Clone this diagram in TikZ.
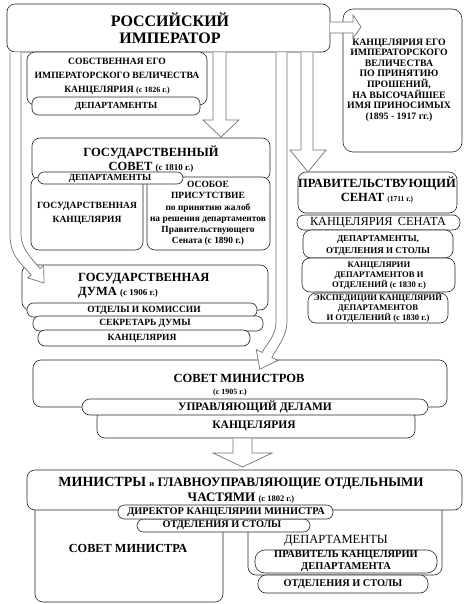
\documentclass[tikz,border=0pt]{standalone}
\usepackage{fontspec}
\setmainfont{Liberation Serif}
\newcommand\fs[2]{\fontsize{#1}{#2}\selectfont}
\newcommand\bxn[6]{\node[#1, anchor=north west, minimum width={(#5-#3)*1pt}, minimum height={(#6-#4)*1pt}] (#2) at (#3,#4) {};}
\begin{document}
\begin{tikzpicture}[x=1pt,y=-1pt,
  box/.style={draw=black!85, line width=0.6pt, fill=white, rounded corners=8pt, inner sep=0pt, outer sep=0pt},
  pill/.style={box, rounded corners=6.5pt},
  arr/.style={draw=black!55, line width=0.7pt, fill=white},
  t/.style={font=\bfseries\fs{9.5}{10.5}, align=center, inner sep=0pt},
  tb/.style={font=\bfseries\fs{12.5}{14.5}, align=center, inner sep=0pt}]
\useasboundingbox (0,0) rectangle (463,604);
% ---------- emperor
\bxn{box}{emp}{7}{4}{330}{52}
\node[font=\bfseries\fs{16}{17}, align=center, inner sep=0pt] (empt) at (170,28.5) {РОССИЙСКИЙ\\ИМПЕРАТОР};
% ---------- own chancellery
\bxn{box}{sob}{27}{52}{207}{105}
\node[t, font=\bfseries\fs{9.6}{14}] (sobt) at (117,76) {СОБСТВЕННАЯ ЕГО\\ИМПЕРАТОРСКОГО ВЕЛИЧЕСТВА\\КАНЦЕЛЯРИЯ {\fs{8}{9}(с 1826 г.)}};
\bxn{pill}{sobd}{32}{97}{200}{115}
\node[t, font=\bfseries\fs{9.3}{10}] (sobdt) at (116,106) {ДЕПАРТАМЕНТЫ};
% ---------- right chancellery
\bxn{box, rounded corners=10pt}{pet}{343}{9}{462}{152}
\node[t, font=\bfseries\fs{9.8}{10.6}] (pett) at (399,80) {КАНЦЕЛЯРИЯ ЕГО\\ИМПЕРАТОРСКОГО\\ВЕЛИЧЕСТВА\\ПО ПРИНЯТИЮ\\ПРОШЕНИЙ,\\НА ВЫСОЧАЙШЕЕ\\ИМЯ ПРИНОСИМЫХ\\(1895 - 1917 гг.)};
% ---------- State council
\bxn{box}{gs}{32}{138}{270}{180}
\node[tb] (gst) at (151,159) {ГОСУДАРСТВЕННЫЙ\\СОВЕТ {\fs{9}{10}(с 1810 г.)}};
\bxn{box}{gk}{31}{177}{143}{250}
\node[t, font=\bfseries\fs{9.5}{14}] (gkt) at (87,213) {ГОСУДАРСТВЕННАЯ\\КАНЦЕЛЯРИЯ};
\bxn{box}{op}{147}{177}{270}{250}
\node[t, font=\bfseries\fs{9.4}{11.2}] (opt) at (208,213.5) {{\fs{9.5}{11.2}ОСОБОЕ}\\{\fs{9.5}{11.2}ПРИСУТСТВИЕ}\\по принятию жалоб\\на решения департаментов\\Правительствующего\\Сената (с 1890 г.)};
\bxn{pill, rounded corners=6pt}{gsd}{38}{172}{183}{184}
\node[t, font=\bfseries\fs{9.3}{10}] (gsdt) at (110,178) {ДЕПАРТАМЕНТЫ};
% ---------- Duma
\bxn{box}{du}{22}{265}{268}{310}
\node[tb, align=left, anchor=west] (dut) at (78,285.5) {ГОСУДАРСТВЕННАЯ\\ДУМА {\fs{9}{10}(с 1906 г.)}};
\bxn{pill}{du1}{27}{303}{257}{317}
\node[t] (du1t) at (144,310) {ОТДЕЛЫ И КОМИССИИ};
\bxn{pill}{du2}{33}{316}{263}{331}
\node[t] (du2t) at (145,323.5) {СЕКРЕТАРЬ ДУМЫ};
\bxn{pill, rounded corners=7pt}{du3}{38}{330}{250}{346}
\node[t] (du3t) at (142,338) {КАНЦЕЛЯРИЯ};
% ---------- Senate
\bxn{box}{sen}{298}{172}{457}{213}
\node[tb] (sent) at (377,190) {ПРАВИТЕЛЬСТВУЮЩИЙ\\СЕНАТ {\fs{7.5}{9}(1711 г.)}};
\bxn{pill, rounded corners=7pt}{senk}{297}{215}{460}{230}
\node[font=\fs{12.3}{13}, inner sep=0pt] (senkt) at (378,222.5) {КАНЦЕЛЯРИЯ\, СЕНАТА};
\bxn{box}{sen1}{303}{230}{453}{258}
\node[t, font=\bfseries\fs{9}{12}] (sen1t) at (378,245.5) {ДЕПАРТАМЕНТЫ,\\ОТДЕЛЕНИЯ И СТОЛЫ};
\bxn{box}{sen2}{302}{258}{455}{292}
\node[t, font=\bfseries\fs{8.6}{10}] (sen2t) at (379,275.5) {КАНЦЕЛЯРИИ\\ДЕПАРТАМЕНТОВ И\\ОТДЕЛЕНИЙ (с 1830 г.)};
\bxn{box}{sen3}{308}{293}{448}{323}
\node[t, font=\bfseries\fs{8.6}{10}] (sen3t) at (378,308) {ЭКСПЕДИЦИИ КАНЦЕЛЯРИЙ\\ДЕПАРТАМЕНТОВ\\И ОТДЕЛЕНИЙ (с 1830 г.)};
% ---------- Council of ministers
\bxn{box}{cm}{33}{360}{447}{407}
\node[tb] (cmt) at (239,378) {СОВЕТ МИНИСТРОВ};
\node[t, font=\bfseries\fs{8}{9}] (cmy) at (230,393) {(с 1905 г.)};
\bxn{box}{cmk}{97}{410}{415}{438}
\node[t, font=\bfseries\fs{11.5}{12}] (cmkt) at (254,426) {КАНЦЕЛЯРИЯ};
\bxn{pill, rounded corners=8pt}{cmu}{82}{399}{428}{415}
\node[t, font=\bfseries\fs{11.5}{12}] (cmut) at (255,407) {УПРАВЛЯЮЩИЙ ДЕЛАМИ};
% ---------- Ministers
\bxn{box}{sm}{35}{500}{223}{602}
\node[t, font=\bfseries\fs{12.3}{13}] (smt) at (128,548) {СОВЕТ МИНИСТРА};
\bxn{box}{dp}{248}{500}{442}{575}
\node[font=\fs{12.5}{14}, inner sep=0pt] (dpt) at (336,541) {ДЕПАРТАМЕНТЫ};
\bxn{pill, rounded corners=10pt}{dp1}{255}{550}{437}{573}
\node[t, font=\bfseries\fs{10.5}{12}] (dp1t) at (346,561.5) {ПРАВИТЕЛЬ КАНЦЕЛЯРИИ\\ДЕПАРТАМЕНТА};
\bxn{pill, rounded corners=8pt}{dp2}{258}{575}{428}{593}
\node[t, font=\bfseries\fs{10.3}{12}] (dp2t) at (343,584) {ОТДЕЛЕНИЯ И СТОЛЫ};
\bxn{box}{mn}{27}{470}{462}{510}
\node[t, font=\bfseries\fs{13}{15}] (mnt) at (241,490) {{\fs{14}{15}МИНИСТРЫ} {\fs{8.5}{9}и} ГЛАВНОУПРАВЛЯЮЩИЕ ОТДЕЛЬНЫМИ\\ЧАСТЯМИ {\fs{8.5}{9}(с 1802 г.)}};
\bxn{pill}{mn2}{137}{519}{310}{532}
\node[t, font=\bfseries\fs{10.3}{11}] (mn2t) at (222,525.5) {ОТДЕЛЕНИЯ И СТОЛЫ};
\bxn{pill}{mn1}{118}{505}{333}{519}
\node[t, font=\bfseries\fs{10.3}{11}] (mn1t) at (226,512) {ДИРЕКТОР КАНЦЕЛЯРИИ МИНИСТРА};
% ---------- block arrows
% emperor -> right chancellery
\path[arr] (330,22) -- (353,22) -- (353,15) -- (361,27) -- (353,38) -- (353,33) -- (330,33);
% emperor -> state council
\path[arr] (213,52.5) -- (213,120) -- (203,120) -- (221,137) -- (239,120) -- (226,120) -- (226,52.5);
% emperor -> senate
\path[arr] (301,52.5) -- (301,150) -- (290,150) -- (308,172) -- (326,150) -- (313,150) -- (313,52.5);
% emperor -> council of ministers (curved)
\path[arr] (276,52.5) -- (276,322) .. controls (276,336) and (266.6,343.6) .. (262.1,352.5)
  -- (256.3,349.6) -- (259.8,369.3) -- (277.7,360.4) -- (271.9,357.5)
  .. controls (276.4,348.6) and (287,336) .. (287,322) -- (287,52.5);
% emperor -> duma (curved, left)
\path[arr] (10,52.5) -- (10,235) .. controls (10,258) and (24,265.5) .. (31.2,275.1)
  -- (27.6,277.8) -- (44,283) -- (43.6,265.8) -- (40,268.5)
  .. controls (35.2,262.1) and (21,250) .. (21,235) -- (21,52.5);
% council -> ministers
\path[arr] (233,438.5) -- (233,453) -- (213,453) -- (242.5,467) -- (272,453) -- (252,453) -- (252,438.5);
\end{tikzpicture}
\end{document}
